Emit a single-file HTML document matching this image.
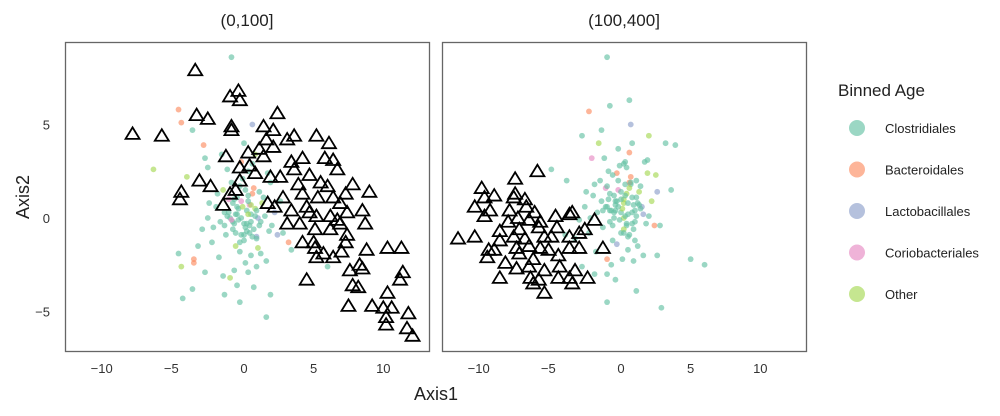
<!DOCTYPE html>
<html><head><meta charset="utf-8">
<style>
html,body{margin:0;padding:0;background:#fff;}
body{width:1000px;height:411px;overflow:hidden;font-family:"Liberation Sans",sans-serif;}
svg text{font-family:"Liberation Sans",sans-serif;}
</style></head>
<body>
<svg id="chart" width="1000" height="411" xmlns="http://www.w3.org/2000/svg">
<g id="p1"></g>
<g id="p2"></g>
<text x="247" y="26" font-size="17" text-anchor="middle" fill="#222">(0,100]</text>
<text x="624" y="26" font-size="17" text-anchor="middle" fill="#222">(100,400]</text>
<text x="436" y="400" font-size="18" text-anchor="middle" fill="#222">Axis1</text>
<text transform="translate(29,197) rotate(-90)" font-size="18" text-anchor="middle" fill="#222">Axis2</text>
<g id="legend">
<text x="838" y="96" font-size="17" fill="#222">Binned Age</text>
</g>
</svg>
<script>
const categories=["Clostridiales","Bacteroidales","Lactobacillales","Coriobacteriales","Other"];
const colors=["#66c2a5","#fc8d62","#8da0cb","#e78ac3","#a6d854"];
const xTicks=[-10,-5,0,5,10];
const yTicks=[5,0,-5];
// panel 1 triangles
const tri1X=[-3.5,-1.0,-0.4,-0.3,-3.4,-2.6,-5.9,-0.9,-0.9,2.4,1.4,2.1,3.6,3.1,5.2,6.1,1.6,1.1,2.1,-1.3,0.3,1.4,3.4,4.2,5.8,6.4,6.7,-0.3,0.4,0.8,3.6,-3.2,-2.4,-4.5,-4.6,-0.3,1.9,2.6,3.9,4.7,5.5,6.0,7.8,9.0,-1.0,-0.6,1.7,2.8,2.2,-1.5,4.2,5.3,6.4,6.9,7.3,8.5,3.4,4.5,4.7,5.2,6.2,6.7,7.4,3.1,4.0,5.1,6.2,6.9,8.7,7.4,4.2,5.0,5.1,7.3,8.8,10.3,11.3,5.7,6.4,7.0,5.2,8.3,7.6,8.5,4.5,11.4,11.2,7.8,8.2,7.5,9.2,10.3,10.0,10.6,10.2,10.2,11.8,11.7,12.1,-8.0];
const tri1Y=[7.9,6.5,6.8,6.3,5.5,5.3,4.4,4.9,4.7,5.6,4.9,4.7,4.4,4.2,4.4,4.0,4.2,3.7,3.8,3.3,3.5,3.3,3.0,3.2,3.2,3.1,2.6,2.7,2.8,2.4,2.6,2.0,1.7,1.4,1.0,2.0,2.2,2.2,1.8,2.3,1.9,1.7,1.8,1.4,1.3,1.5,0.8,1.1,0.6,0.7,1.3,1.1,1.1,0.8,1.3,0.4,0.4,0.6,0.3,0.1,0.1,-0.1,0.3,-0.3,-0.3,-0.6,-0.6,-0.3,-0.3,-0.9,-1.3,-1.3,-1.6,-1.3,-1.7,-1.6,-1.6,-1.9,-2.1,-1.8,-2.1,-2.5,-2.8,-2.7,-3.3,-2.9,-3.3,-3.6,-3.7,-4.7,-4.7,-4.0,-4.8,-4.8,-5.3,-5.7,-5.1,-5.9,-6.3,4.5];
// panel 2 triangles
const tri2X=[-6.0,-7.6,-10.0,-9.1,-9.8,-10.5,-9.4,-9.8,-7.6,-7.7,-6.9,-6.8,-8.0,-6.2,-7.4,-6.6,-8.1,-5.8,-4.7,-3.7,-3.5,-1.9,-11.7,-10.5,-8.7,-7.3,-5.9,-4.6,-8.7,-7.7,-6.9,-5.5,-5.0,-3.7,-3.0,-2.6,-9.5,-9.1,-9.6,-7.5,-7.3,-6.6,-5.8,-5.2,-4.5,-3.7,-3.0,-1.3,-8.3,-7.5,-6.6,-6.3,-5.5,-4.4,-3.3,-8.7,-6.5,-5.9,-6.3,-4.5,-3.7,-2.4,-3.5,-5.5];
const tri2Y=[2.5,2.1,1.6,1.2,1.1,0.6,0.4,0.1,1.3,1.1,1.0,0.6,0.4,0.3,0.0,-0.1,-0.2,-0.2,0.1,0.2,0.3,-0.1,-1.1,-1.0,-0.7,-0.6,-0.5,-0.5,-1.2,-1.0,-1.1,-1.0,-1.0,-1.0,-0.8,-0.6,-1.7,-1.7,-2.1,-1.6,-1.9,-1.5,-1.6,-1.7,-2.0,-1.6,-1.6,-1.6,-2.4,-2.7,-2.6,-2.2,-2.8,-2.6,-2.8,-3.2,-3.2,-3.3,-3.5,-3.2,-3.2,-3.2,-3.5,-4.0];
// panel 1 dots
const dot1X=[-0.9,-4.7,-4.5,0.6,-3.7,-2.9,0.0,-6.5,-4.1,-2.8,-2.6,3.2,3.4,-3.6,-3.6,-4.5,-4.7,-3.7,-4.4,1.6,-1.4,-0.3,1.9,0.7,-1.5,-0.5,0.3,6.0,
 -0.5,0.2,0.8,-1.0,0.4,-0.2,1.1,-1.4,0.0,0.6,-0.8,1.3,-0.3,0.9,-1.7,0.2,-0.6,1.5,-1.1,0.5,-0.1,1.8,-2.0,0.7,-0.4,1.0,-1.3,0.3,-0.9,2.2,-2.3,0.1,1.4,-0.7,0.6,-1.5,2.0,-0.2,-2.6,1.2,-1.8,0.4,2.6,-1.0,0.9,-0.5,1.6,-2.2,0.0,-3.0,1.9,-1.2,0.8,-0.3,0.5,1.1,-0.8,-1.9,2.4,-2.5,-3.3,-1.6,1.7,-0.6,0.3,-2.8,2.8,
 -0.2,0.3,-0.7,0.9,-1.2,0.1,0.5,-0.4,1.2,-0.9,0.0,0.7,-0.5,0.3,-1.1,0.6,-0.3,1.0,-0.8,0.2,-0.1,0.4,-0.6,0.8,-1.4,0.1,0.9,-0.2,-0.7,0.5];
const dot1Y=[8.6,5.8,5.1,5.0,4.7,3.9,4.0,2.6,2.2,3.2,2.7,-1.3,-1.7,-2.2,-2.4,-2.6,-1.9,-3.8,-4.3,-5.3,-4.1,-4.5,-4.1,-3.7,-3.1,-3.6,-2.9,-2.6,
 0.2,-0.3,0.5,0.0,-0.8,0.9,-0.4,0.3,-1.2,1.3,-0.6,0.8,1.7,-1.0,-0.2,0.4,-1.5,0.1,1.0,-2.0,2.1,-0.7,0.6,1.6,-0.1,-1.6,-0.9,2.5,1.9,0.3,-1.3,-2.4,1.1,-2.8,2.9,1.5,-0.4,3.0,0.0,-1.9,-2.1,0.7,0.9,-3.2,-2.6,0.6,-2.3,-0.5,-0.3,-0.6,1.9,2.6,3.4,-1.8,0.2,1.4,-0.2,1.3,-0.9,0.8,-1.5,3.4,2.4,-0.8,1.2,-2.9,-0.8,
 0.0,0.2,-0.3,0.4,0.1,-0.5,0.7,0.5,-0.2,-0.1,-0.9,-0.6,1.1,0.9,0.3,-1.0,-1.3,0.0,0.8,-0.7,0.6,-0.4,0.2,0.1,-0.4,1.5,-1.1,-0.9,1.0,-0.2];
const dot1C=[0,1,1,2,0,1,0,4,4,0,0,1,0,1,1,4,0,0,0,0,0,0,0,0,0,0,0,0,
 0,0,4,0,0,3,0,0,0,1,0,4,0,2,0,0,4,0,3,0,0,0,0,1,0,4,0,0,0,2,0,0,0,0,0,4,0,1,0,0,0,3,0,4,0,0,0,0,0,0,0,0,4,0,0,0,0,0,2,0,0,0,0,0,0,0,0,
 0,4,0,0,0,0,4,0,0,3,0,0,0,0,0,0,0,2,0,0,4,0,0,0,0,0,0,0,0,0];
// panel 2 dots
const dot2X=[-1.0,-5.0,-2.3,-0.8,0.6,0.7,-1.4,-2.8,2.0,3.2,3.9,-3.9,-4.0,-1.0,2.9,5.0,6.0,-1.0,0.7,-2.1,0.2,1.9,2.5,3.6,-0.4,-1.9,1.1,2.6,
 0.2,-0.5,0.8,-1.0,0.4,-0.2,1.1,-1.4,0.0,0.6,-0.8,1.3,-0.3,0.9,-1.7,0.2,-0.6,1.5,-1.1,0.5,-0.1,1.8,-2.0,0.7,-0.4,1.0,-1.3,0.3,-0.9,2.2,-2.3,0.1,1.4,-0.7,0.6,-1.5,2.0,-0.2,-2.6,1.2,-1.8,0.4,2.6,-1.0,0.9,-0.5,1.6,-2.2,0.0,-3.0,1.9,-1.2,0.8,-0.3,0.5,1.1,-0.8,-1.9,2.4,-2.5,-3.3,-1.6,1.7,-0.6,0.3,-2.8,2.8,0.2,1.0,-0.4,0.6,
 0.1,-0.3,0.5,0.9,-0.7,0.3,-0.1,0.6,1.2,-0.5,0.0,0.8,-1.1,0.4,-0.2,1.4,-0.8,0.2,0.7,-0.4,1.0,-0.9,0.3,0.0,1.6,-1.3,0.5,-0.6,1.1,0.2,-0.2,0.8,-1.0,0.4,1.3];
const dot2Y=[8.6,2.6,5.7,6.0,6.3,5.0,4.7,4.4,4.4,4.0,3.9,2.0,-0.9,-4.5,-4.8,-2.2,-2.5,-2.2,1.8,3.2,2.9,3.1,2.3,1.5,-3.3,-3.0,-3.9,-2.0,
 0.8,0.3,1.1,0.6,-0.3,1.5,0.1,0.9,-0.8,1.9,-0.2,1.4,2.4,-0.6,0.3,1.0,-1.2,0.6,1.6,-1.7,2.8,-0.3,1.2,2.2,0.4,-1.2,-0.5,3.0,2.5,0.9,-0.8,-2.2,1.7,-2.5,3.5,2.0,0.1,3.7,0.6,-1.5,-1.8,1.3,1.4,-3.0,-2.3,1.2,-2.0,0.0,0.3,-0.1,2.4,3.2,4.0,-1.4,0.8,2.0,0.4,1.8,-0.4,1.4,-1.1,4.0,3.0,-0.4,1.8,-2.6,-0.4,0.0,0.4,0.7,-0.9,
 0.5,0.9,0.2,0.7,0.4,1.2,-0.1,1.6,0.8,0.0,1.0,0.3,0.6,-0.4,2.0,0.5,1.3,-0.6,1.9,0.9,-0.2,1.0,0.1,1.4,0.2,0.4,-1.0,2.3,1.1,-0.8,0.6,-0.3,1.7,2.7,0.7];
const dot2C=[0,0,1,0,0,2,0,0,4,0,0,0,0,0,0,0,0,1,0,3,0,0,4,0,0,0,0,0,
 4,0,0,0,0,3,0,0,0,1,0,4,1,0,0,4,0,2,3,0,0,0,0,1,0,0,0,0,0,4,0,0,0,0,1,0,0,0,0,0,0,4,2,0,0,0,0,0,0,0,4,0,0,2,0,0,0,0,1,0,0,4,0,0,0,0,0,4,0,0,0,
 4,0,0,0,0,0,0,4,0,0,0,0,0,0,0,0,0,4,0,0,0,0,0,0,2,0,0,0,0,0,0,0,0,0,0];

const NS="http://www.w3.org/2000/svg";
function mk(t,a,p){const e=document.createElementNS(NS,t);for(const k in a)e.setAttribute(k,a[k]);p.appendChild(e);return e;}
const panels=[{g:document.getElementById('p1'),x0:65,dx:244,tx:tri1X,ty:tri1Y,dX:dot1X,dY:dot1Y,dC:dot1C},
 {g:document.getElementById('p2'),x0:442,dx:621,tx:tri2X,ty:tri2Y,dX:dot2X,dY:dot2Y,dC:dot2C}];
const W=364,Y0=42,H=309,PX=13.93,PY=18.7,YZ=218;
panels.forEach((P,pi)=>{
  const sx=v=>P.dx+v*PX, sy=v=>YZ-v*PY;
  const fr=mk('rect',{x:P.x0+0.5,y:Y0+0.5,width:W,height:H,fill:'none',stroke:'#666','stroke-width':1.3},P.g);
  
  
  xTicks.forEach(t=>{const e=mk('text',{x:sx(t)-(t<0?3:0),y:373,'font-size':13,'text-anchor':'middle',fill:'#333'},P.g);e.textContent=(t<0?'\u2212':'')+Math.abs(t);
    
    });
  if(pi===0) yTicks.forEach(t=>{const e=mk('text',{x:50,y:sy(t)+5,'font-size':13,'text-anchor':'end',fill:'#333'},P.g);e.textContent=(t<0?'\u2212':'')+Math.abs(t);
    
    });
  for(let i=0;i<P.dX.length;i++){
    const c=mk('circle',{cx:sx(P.dX[i]),cy:sy(P.dY[i]),r:2.9,fill:colors[P.dC[i]],'fill-opacity':0.65},P.g);
    
    
  }
  for(let i=0;i<P.tx.length;i++){
    const x=sx(P.tx[i]),y=sy(P.ty[i]);
    const t=mk('polygon',{points:`${x},${y-6.5} ${x-7},${y+5} ${x+7},${y+5}`,fill:'none',stroke:'#000','stroke-width':1.8,'stroke-linejoin':'miter'},P.g);
    
    
  }
});
const L=document.getElementById('legend');
categories.forEach((c,i)=>{
  const y=128+i*41.5;
  const g=mk('g',{},L);
  
  
  mk('circle',{cx:857,cy:y,r:8,fill:colors[i],'fill-opacity':0.65},g);
  const t=mk('text',{x:885,y:y+5,'font-size':13,fill:'#222'},g);t.textContent=c;
});
</script>
</body></html>
